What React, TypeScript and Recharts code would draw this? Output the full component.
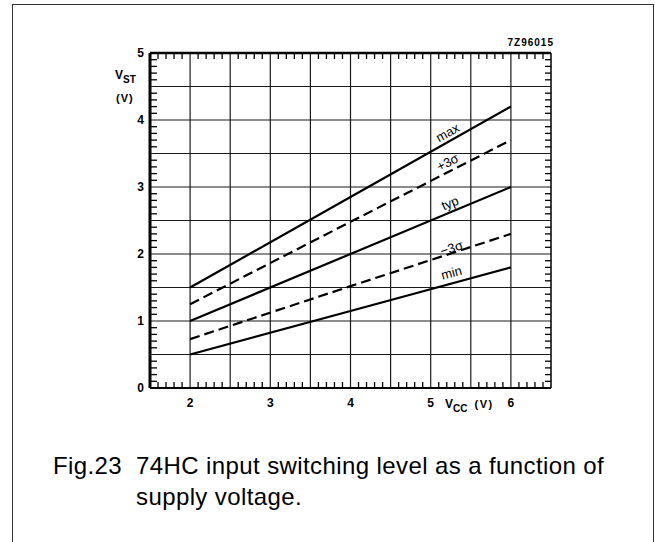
import React from "react";
import { LineChart, Line, XAxis, YAxis, CartesianGrid, ReferenceDot } from "recharts";

// supply voltage points (V) and switching level per curve (V)
const vcc = [2, 4, 6];
const vMax = [1.5, 2.85, 4.2];
const vPlus3s = [1.25, 2.48, 3.7];
const vTyp = [1.0, 2.0, 3.0];
const vMinus3s = [0.73, 1.52, 2.3];
const vMin = [0.5, 1.15, 1.8];

const xLabels = [2, 3, 4, 5, 6];
const yLabels = [0, 1, 2, 3, 4, 5];
const xGrid = [2, 2.5, 3, 3.5, 4, 4.5, 5, 5.5, 6];
const yGrid = [0.5, 1, 1.5, 2, 2.5, 3, 3.5, 4, 4.5];

const curveNames = ["max", "+3σ", "typ", "−3σ", "min"];
const curveLabelX = [5.21, 5.21, 5.24, 5.26, 5.26];
const curveLabelY = [3.81, 3.37, 2.76, 2.09, 1.72];
const curveLabelAngle = [29, 27, 23, 18, 15];

const data = vcc.map((x, i) => ({
  x,
  max: vMax[i],
  plus3s: vPlus3s[i],
  typ: vTyp[i],
  minus3s: vMinus3s[i],
  min: vMin[i],
}));

// minor tick positions every 0.1 V
const steps = (from: number, to: number) => {
  const out: number[] = [];
  for (let i = Math.round(from * 10); i <= Math.round(to * 10); i++) out.push(i / 10);
  return out;
};
const xTicks = steps(1.5, 6.5);
const yTicks = steps(0, 5);

const isHalf = (v: number) => Math.abs(v * 2 - Math.round(v * 2)) < 1e-6;
const inList = (v: number, list: number[]) => list.some((l) => Math.abs(l - v) < 1e-6);

const font = "'Liberation Sans', Arial, Helvetica, sans-serif";
const TICK = 6;

function BottomTick({ x, y, payload }: any) {
  const v = payload.value;
  return (
    <g>
      {!isHalf(v) && <line x1={x} x2={x} y1={y} y2={y - TICK} stroke="#000" strokeWidth={1.3} />}
      {inList(v, xLabels) && (
        <text x={x} y={y + 19} textAnchor="middle" fontSize={12} fontWeight="bold" fontFamily={font} fill="#000">
          {v}
        </text>
      )}
    </g>
  );
}

function TopTick({ x, y, payload }: any) {
  if (isHalf(payload.value)) return <g />;
  return <line x1={x} x2={x} y1={y} y2={y + TICK} stroke="#000" strokeWidth={1.3} />;
}

function LeftTick({ x, y, payload }: any) {
  const v = payload.value;
  return (
    <g>
      {!isHalf(v) && <line x1={x} x2={x + TICK + 1} y1={y} y2={y} stroke="#000" strokeWidth={1.3} />}
      {inList(v, yLabels) && (
        <text x={x - 6} y={y + 4} textAnchor="end" fontSize={12} fontWeight="bold" fontFamily={font} fill="#000">
          {v}
        </text>
      )}
    </g>
  );
}

function RightTick({ x, y, payload }: any) {
  if (isHalf(payload.value)) return <g />;
  return <line x1={x} x2={x - TICK} y1={y} y2={y} stroke="#000" strokeWidth={1.3} />;
}

export default function App() {
  return (
    <div
      style={{
        position: "fixed",
        left: 0,
        top: 0,
        width: 655,
        height: 542,
        overflow: "hidden",
        background: "#fff",
        fontFamily: font,
      }}
    >
      <div
        style={{
          position: "absolute",
          left: 12,
          top: 4,
          width: 640,
          height: 600,
          border: "1.5px solid #333",
        }}
      />
      <LineChart
        width={655}
        height={440}
        data={data}
        margin={{ top: 43, right: 94, bottom: 22, left: 110 }}
        style={{ position: "absolute", left: 0, top: 0 }}
      >
        <CartesianGrid
          xAxisId="bottom"
          yAxisId="left"
          horizontalValues={yGrid}
          verticalValues={xGrid}
          stroke="#1a1a1a"
          strokeWidth={1.2}
        />
        <XAxis
          xAxisId="bottom"
          dataKey="x"
          type="number"
          domain={[1.5, 6.5]}
          ticks={xTicks}
          interval={0}
          tickSize={0}
          tickMargin={0}
          tickLine={false}
          tick={<BottomTick />}
          axisLine={{ stroke: "#000", strokeWidth: 2 }}
          height={30}
          allowDataOverflow
        />
        <XAxis
          xAxisId="top"
          dataKey="x"
          orientation="top"
          type="number"
          domain={[1.5, 6.5]}
          ticks={xTicks}
          interval={0}
          tickSize={0}
          tickMargin={0}
          tickLine={false}
          tick={<TopTick />}
          axisLine={{ stroke: "#000", strokeWidth: 2.6 }}
          height={10}
          allowDataOverflow
        />
        <YAxis
          yAxisId="left"
          type="number"
          domain={[0, 5]}
          ticks={yTicks}
          interval={0}
          tickSize={0}
          tickMargin={0}
          tickLine={false}
          tick={<LeftTick />}
          axisLine={{ stroke: "#000", strokeWidth: 3 }}
          width={40}
          allowDataOverflow
        />
        <YAxis
          yAxisId="right"
          orientation="right"
          type="number"
          domain={[0, 5]}
          ticks={yTicks}
          interval={0}
          tickSize={0}
          tickMargin={0}
          tickLine={false}
          tick={<RightTick />}
          axisLine={{ stroke: "#000", strokeWidth: 1.5 }}
          width={10}
          allowDataOverflow
        />
        <Line xAxisId="bottom" yAxisId="left" type="linear" dataKey="max" stroke="#000" strokeWidth={2.2} dot={false} isAnimationActive={false} />
        <Line xAxisId="bottom" yAxisId="left" type="linear" dataKey="plus3s" stroke="#000" strokeWidth={2.2} strokeDasharray="10 5" dot={false} isAnimationActive={false} />
        <Line xAxisId="bottom" yAxisId="left" type="linear" dataKey="typ" stroke="#000" strokeWidth={2.2} dot={false} isAnimationActive={false} />
        <Line xAxisId="bottom" yAxisId="left" type="linear" dataKey="minus3s" stroke="#000" strokeWidth={2.2} strokeDasharray="10 5" dot={false} isAnimationActive={false} />
        <Line xAxisId="bottom" yAxisId="left" type="linear" dataKey="min" stroke="#000" strokeWidth={2.2} dot={false} isAnimationActive={false} />
        {curveNames.map((name, i) => (
          <ReferenceDot
            key={name}
            xAxisId="bottom"
            yAxisId="left"
            x={curveLabelX[i]}
            y={curveLabelY[i]}
            r={0}
            shape={(p: any) => (
              <text
                x={p.cx}
                y={p.cy}
                textAnchor="middle"
                dominantBaseline="central"
                fontSize={13}
                fontFamily={font}
                fill="#000"
                transform={`rotate(${-curveLabelAngle[i]}, ${p.cx}, ${p.cy})`}
              >
                {name}
              </text>
            )}
          />
        ))}
      </LineChart>

      <div style={{ position: "absolute", left: 502, top: 37, width: 52, textAlign: "right", fontSize: 10, fontWeight: "bold", letterSpacing: 1 }}>
        7Z96015
      </div>
      <div style={{ position: "absolute", left: 115, top: 68, fontSize: 12, fontWeight: "bold", whiteSpace: "nowrap" }}>
        V<span style={{ fontSize: 10, position: "relative", top: 4 }}>ST</span>
      </div>
      <div style={{ position: "absolute", left: 116, top: 92, fontSize: 11, fontWeight: "bold", letterSpacing: 1 }}>(V)</div>
      <div style={{ position: "absolute", left: 445, top: 397, fontSize: 12, fontWeight: "bold", whiteSpace: "nowrap" }}>
        V<span style={{ fontSize: 10, position: "relative", top: 4 }}>CC</span>
        <span style={{ fontSize: 11, marginLeft: 7, letterSpacing: 1.5 }}>(V)</span>
      </div>

      <div style={{ position: "absolute", left: 53, top: 450, fontSize: 24, letterSpacing: 0.4, lineHeight: "31px", whiteSpace: "nowrap" }}>
        Fig.23
      </div>
      <div style={{ position: "absolute", left: 136, top: 450, fontSize: 24, letterSpacing: 0.4, lineHeight: "31px", whiteSpace: "nowrap" }}>
        74HC input switching level as a function of
        <br />
        supply voltage.
      </div>
    </div>
  );
}
